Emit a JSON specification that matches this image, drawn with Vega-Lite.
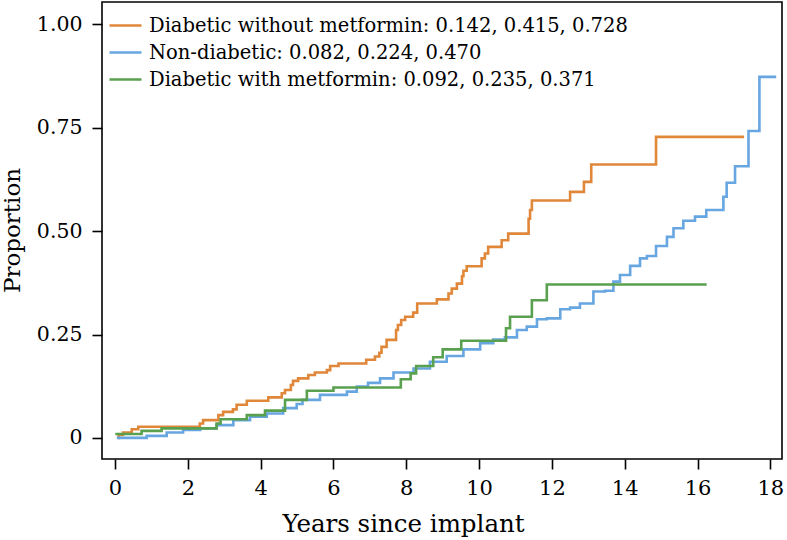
{
  "$schema": "https://vega.github.io/schema/vega-lite/v6.json",
  "width": 680,
  "height": 457,
  "autosize": "none",
  "padding": {"left": 102, "top": 2, "right": 5, "bottom": 81},
  "background": "white",
  "config": {
    "font": "DejaVu Serif",
    "view": {"stroke": "black", "strokeWidth": 1.6}
  },
  "datasets": {
    "curves": [
      {"group": "Diabetic without metformin: 0.142, 0.415, 0.728", "t": 0.08, "p": 0.0},
      {"group": "Diabetic without metformin: 0.142, 0.415, 0.728", "t": 0.1, "p": 0.007},
      {"group": "Diabetic without metformin: 0.142, 0.415, 0.728", "t": 0.22, "p": 0.013},
      {"group": "Diabetic without metformin: 0.142, 0.415, 0.728", "t": 0.46, "p": 0.021},
      {"group": "Diabetic without metformin: 0.142, 0.415, 0.728", "t": 0.64, "p": 0.027},
      {"group": "Diabetic without metformin: 0.142, 0.415, 0.728", "t": 2.33, "p": 0.035},
      {"group": "Diabetic without metformin: 0.142, 0.415, 0.728", "t": 2.42, "p": 0.043},
      {"group": "Diabetic without metformin: 0.142, 0.415, 0.728", "t": 2.84, "p": 0.055},
      {"group": "Diabetic without metformin: 0.142, 0.415, 0.728", "t": 2.97, "p": 0.063},
      {"group": "Diabetic without metformin: 0.142, 0.415, 0.728", "t": 3.24, "p": 0.069},
      {"group": "Diabetic without metformin: 0.142, 0.415, 0.728", "t": 3.34, "p": 0.08},
      {"group": "Diabetic without metformin: 0.142, 0.415, 0.728", "t": 3.62, "p": 0.09},
      {"group": "Diabetic without metformin: 0.142, 0.415, 0.728", "t": 4.21, "p": 0.098},
      {"group": "Diabetic without metformin: 0.142, 0.415, 0.728", "t": 4.58, "p": 0.108},
      {"group": "Diabetic without metformin: 0.142, 0.415, 0.728", "t": 4.67, "p": 0.116},
      {"group": "Diabetic without metformin: 0.142, 0.415, 0.728", "t": 4.83, "p": 0.128},
      {"group": "Diabetic without metformin: 0.142, 0.415, 0.728", "t": 4.89, "p": 0.138},
      {"group": "Diabetic without metformin: 0.142, 0.415, 0.728", "t": 5.03, "p": 0.144},
      {"group": "Diabetic without metformin: 0.142, 0.415, 0.728", "t": 5.31, "p": 0.152},
      {"group": "Diabetic without metformin: 0.142, 0.415, 0.728", "t": 5.49, "p": 0.158},
      {"group": "Diabetic without metformin: 0.142, 0.415, 0.728", "t": 5.82, "p": 0.164},
      {"group": "Diabetic without metformin: 0.142, 0.415, 0.728", "t": 5.91, "p": 0.174},
      {"group": "Diabetic without metformin: 0.142, 0.415, 0.728", "t": 6.14, "p": 0.18},
      {"group": "Diabetic without metformin: 0.142, 0.415, 0.728", "t": 6.9, "p": 0.189},
      {"group": "Diabetic without metformin: 0.142, 0.415, 0.728", "t": 7.14, "p": 0.197},
      {"group": "Diabetic without metformin: 0.142, 0.415, 0.728", "t": 7.26, "p": 0.206},
      {"group": "Diabetic without metformin: 0.142, 0.415, 0.728", "t": 7.32, "p": 0.22},
      {"group": "Diabetic without metformin: 0.142, 0.415, 0.728", "t": 7.46, "p": 0.237},
      {"group": "Diabetic without metformin: 0.142, 0.415, 0.728", "t": 7.72, "p": 0.261},
      {"group": "Diabetic without metformin: 0.142, 0.415, 0.728", "t": 7.77, "p": 0.273},
      {"group": "Diabetic without metformin: 0.142, 0.415, 0.728", "t": 7.86, "p": 0.285},
      {"group": "Diabetic without metformin: 0.142, 0.415, 0.728", "t": 7.97, "p": 0.293},
      {"group": "Diabetic without metformin: 0.142, 0.415, 0.728", "t": 8.19, "p": 0.303},
      {"group": "Diabetic without metformin: 0.142, 0.415, 0.728", "t": 8.3, "p": 0.325},
      {"group": "Diabetic without metformin: 0.142, 0.415, 0.728", "t": 8.84, "p": 0.335},
      {"group": "Diabetic without metformin: 0.142, 0.415, 0.728", "t": 9.16, "p": 0.349},
      {"group": "Diabetic without metformin: 0.142, 0.415, 0.728", "t": 9.25, "p": 0.361},
      {"group": "Diabetic without metformin: 0.142, 0.415, 0.728", "t": 9.39, "p": 0.373},
      {"group": "Diabetic without metformin: 0.142, 0.415, 0.728", "t": 9.53, "p": 0.391},
      {"group": "Diabetic without metformin: 0.142, 0.415, 0.728", "t": 9.57, "p": 0.404},
      {"group": "Diabetic without metformin: 0.142, 0.415, 0.728", "t": 9.66, "p": 0.415},
      {"group": "Diabetic without metformin: 0.142, 0.415, 0.728", "t": 10.07, "p": 0.434},
      {"group": "Diabetic without metformin: 0.142, 0.415, 0.728", "t": 10.16, "p": 0.446},
      {"group": "Diabetic without metformin: 0.142, 0.415, 0.728", "t": 10.25, "p": 0.462},
      {"group": "Diabetic without metformin: 0.142, 0.415, 0.728", "t": 10.62, "p": 0.478},
      {"group": "Diabetic without metformin: 0.142, 0.415, 0.728", "t": 10.8, "p": 0.494},
      {"group": "Diabetic without metformin: 0.142, 0.415, 0.728", "t": 11.36, "p": 0.53},
      {"group": "Diabetic without metformin: 0.142, 0.415, 0.728", "t": 11.4, "p": 0.551},
      {"group": "Diabetic without metformin: 0.142, 0.415, 0.728", "t": 11.45, "p": 0.574},
      {"group": "Diabetic without metformin: 0.142, 0.415, 0.728", "t": 12.5, "p": 0.595},
      {"group": "Diabetic without metformin: 0.142, 0.415, 0.728", "t": 12.88, "p": 0.619},
      {"group": "Diabetic without metformin: 0.142, 0.415, 0.728", "t": 13.08, "p": 0.661},
      {"group": "Diabetic without metformin: 0.142, 0.415, 0.728", "t": 14.86, "p": 0.728},
      {"group": "Diabetic without metformin: 0.142, 0.415, 0.728", "t": 17.28, "p": 0.728},

      {"group": "Non-diabetic: 0.082, 0.224, 0.470", "t": 0.05, "p": 0.0},
      {"group": "Non-diabetic: 0.082, 0.224, 0.470", "t": 0.87, "p": 0.005},
      {"group": "Non-diabetic: 0.082, 0.224, 0.470", "t": 1.42, "p": 0.013},
      {"group": "Non-diabetic: 0.082, 0.224, 0.470", "t": 1.87, "p": 0.019},
      {"group": "Non-diabetic: 0.082, 0.224, 0.470", "t": 2.34, "p": 0.023},
      {"group": "Non-diabetic: 0.082, 0.224, 0.470", "t": 2.79, "p": 0.031},
      {"group": "Non-diabetic: 0.082, 0.224, 0.470", "t": 3.25, "p": 0.043},
      {"group": "Non-diabetic: 0.082, 0.224, 0.470", "t": 3.71, "p": 0.051},
      {"group": "Non-diabetic: 0.082, 0.224, 0.470", "t": 4.17, "p": 0.059},
      {"group": "Non-diabetic: 0.082, 0.224, 0.470", "t": 4.62, "p": 0.072},
      {"group": "Non-diabetic: 0.082, 0.224, 0.470", "t": 4.99, "p": 0.082},
      {"group": "Non-diabetic: 0.082, 0.224, 0.470", "t": 5.15, "p": 0.092},
      {"group": "Non-diabetic: 0.082, 0.224, 0.470", "t": 5.63, "p": 0.104},
      {"group": "Non-diabetic: 0.082, 0.224, 0.470", "t": 6.37, "p": 0.112},
      {"group": "Non-diabetic: 0.082, 0.224, 0.470", "t": 6.64, "p": 0.124},
      {"group": "Non-diabetic: 0.082, 0.224, 0.470", "t": 6.95, "p": 0.133},
      {"group": "Non-diabetic: 0.082, 0.224, 0.470", "t": 7.28, "p": 0.144},
      {"group": "Non-diabetic: 0.082, 0.224, 0.470", "t": 7.65, "p": 0.158},
      {"group": "Non-diabetic: 0.082, 0.224, 0.470", "t": 8.2, "p": 0.168},
      {"group": "Non-diabetic: 0.082, 0.224, 0.470", "t": 8.65, "p": 0.184},
      {"group": "Non-diabetic: 0.082, 0.224, 0.470", "t": 9.11, "p": 0.198},
      {"group": "Non-diabetic: 0.082, 0.224, 0.470", "t": 9.57, "p": 0.214},
      {"group": "Non-diabetic: 0.082, 0.224, 0.470", "t": 10.03, "p": 0.229},
      {"group": "Non-diabetic: 0.082, 0.224, 0.470", "t": 10.39, "p": 0.238},
      {"group": "Non-diabetic: 0.082, 0.224, 0.470", "t": 10.71, "p": 0.243},
      {"group": "Non-diabetic: 0.082, 0.224, 0.470", "t": 11.04, "p": 0.261},
      {"group": "Non-diabetic: 0.082, 0.224, 0.470", "t": 11.31, "p": 0.269},
      {"group": "Non-diabetic: 0.082, 0.224, 0.470", "t": 11.59, "p": 0.287},
      {"group": "Non-diabetic: 0.082, 0.224, 0.470", "t": 11.86, "p": 0.289},
      {"group": "Non-diabetic: 0.082, 0.224, 0.470", "t": 12.23, "p": 0.311},
      {"group": "Non-diabetic: 0.082, 0.224, 0.470", "t": 12.5, "p": 0.315},
      {"group": "Non-diabetic: 0.082, 0.224, 0.470", "t": 12.77, "p": 0.325},
      {"group": "Non-diabetic: 0.082, 0.224, 0.470", "t": 13.14, "p": 0.354},
      {"group": "Non-diabetic: 0.082, 0.224, 0.470", "t": 13.46, "p": 0.356},
      {"group": "Non-diabetic: 0.082, 0.224, 0.470", "t": 13.69, "p": 0.378},
      {"group": "Non-diabetic: 0.082, 0.224, 0.470", "t": 13.87, "p": 0.394},
      {"group": "Non-diabetic: 0.082, 0.224, 0.470", "t": 14.15, "p": 0.416},
      {"group": "Non-diabetic: 0.082, 0.224, 0.470", "t": 14.42, "p": 0.434},
      {"group": "Non-diabetic: 0.082, 0.224, 0.470", "t": 14.61, "p": 0.44},
      {"group": "Non-diabetic: 0.082, 0.224, 0.470", "t": 14.86, "p": 0.464},
      {"group": "Non-diabetic: 0.082, 0.224, 0.470", "t": 15.16, "p": 0.486},
      {"group": "Non-diabetic: 0.082, 0.224, 0.470", "t": 15.34, "p": 0.507},
      {"group": "Non-diabetic: 0.082, 0.224, 0.470", "t": 15.61, "p": 0.525},
      {"group": "Non-diabetic: 0.082, 0.224, 0.470", "t": 15.93, "p": 0.535},
      {"group": "Non-diabetic: 0.082, 0.224, 0.470", "t": 16.24, "p": 0.551},
      {"group": "Non-diabetic: 0.082, 0.224, 0.470", "t": 16.71, "p": 0.583},
      {"group": "Non-diabetic: 0.082, 0.224, 0.470", "t": 16.8, "p": 0.617},
      {"group": "Non-diabetic: 0.082, 0.224, 0.470", "t": 17.03, "p": 0.657},
      {"group": "Non-diabetic: 0.082, 0.224, 0.470", "t": 17.4, "p": 0.742},
      {"group": "Non-diabetic: 0.082, 0.224, 0.470", "t": 17.7, "p": 0.873},
      {"group": "Non-diabetic: 0.082, 0.224, 0.470", "t": 18.16, "p": 0.873},

      {"group": "Diabetic with metformin: 0.092, 0.235, 0.371", "t": 0.01, "p": 0.0095},
      {"group": "Diabetic with metformin: 0.092, 0.235, 0.371", "t": 0.73, "p": 0.017},
      {"group": "Diabetic with metformin: 0.092, 0.235, 0.371", "t": 1.28, "p": 0.023},
      {"group": "Diabetic with metformin: 0.092, 0.235, 0.371", "t": 2.79, "p": 0.035},
      {"group": "Diabetic with metformin: 0.092, 0.235, 0.371", "t": 2.9, "p": 0.045},
      {"group": "Diabetic with metformin: 0.092, 0.235, 0.371", "t": 3.62, "p": 0.055},
      {"group": "Diabetic with metformin: 0.092, 0.235, 0.371", "t": 4.12, "p": 0.066},
      {"group": "Diabetic with metformin: 0.092, 0.235, 0.371", "t": 4.67, "p": 0.092},
      {"group": "Diabetic with metformin: 0.092, 0.235, 0.371", "t": 5.27, "p": 0.114},
      {"group": "Diabetic with metformin: 0.092, 0.235, 0.371", "t": 6.0, "p": 0.122},
      {"group": "Diabetic with metformin: 0.092, 0.235, 0.371", "t": 7.85, "p": 0.142},
      {"group": "Diabetic with metformin: 0.092, 0.235, 0.371", "t": 8.12, "p": 0.156},
      {"group": "Diabetic with metformin: 0.092, 0.235, 0.371", "t": 8.27, "p": 0.174},
      {"group": "Diabetic with metformin: 0.092, 0.235, 0.371", "t": 8.74, "p": 0.195},
      {"group": "Diabetic with metformin: 0.092, 0.235, 0.371", "t": 9.0, "p": 0.214},
      {"group": "Diabetic with metformin: 0.092, 0.235, 0.371", "t": 9.51, "p": 0.235},
      {"group": "Diabetic with metformin: 0.092, 0.235, 0.371", "t": 10.74, "p": 0.265},
      {"group": "Diabetic with metformin: 0.092, 0.235, 0.371", "t": 10.85, "p": 0.293},
      {"group": "Diabetic with metformin: 0.092, 0.235, 0.371", "t": 11.45, "p": 0.333},
      {"group": "Diabetic with metformin: 0.092, 0.235, 0.371", "t": 11.86, "p": 0.371},
      {"group": "Diabetic with metformin: 0.092, 0.235, 0.371", "t": 16.25, "p": 0.371}
    ]
  },
  "data": {"name": "curves"},
  "mark": {"type": "line", "interpolate": "step-after", "strokeWidth": 2.6, "clip": true},
  "encoding": {
    "x": {
      "field": "t",
      "type": "quantitative",
      "scale": {"domain": [-0.357, 18.32], "nice": false, "zero": false},
      "axis": {
        "title": "Years since implant",
        "values": [0, 2, 4, 6, 8, 10, 12, 14, 16, 18],
        "grid": false,
        "domain": false,
        "tickColor": "black",
        "tickWidth": 1.6,
        "tickSize": 10,
        "labelFontSize": 21,
        "labelColor": "black",
        "labelPadding": 8,
        "labelFlush": false,
        "titleFontSize": 24.5,
        "titleFontWeight": "normal",
        "titleColor": "black",
        "titleX": 301,
        "titleY": 72,
        "titleAlign": "center",
        "titleBaseline": "alphabetic"
      }
    },
    "y": {
      "field": "p",
      "type": "quantitative",
      "scale": {"domain": [-0.051, 1.054], "nice": false, "zero": false},
      "axis": {
        "title": "Proportion",
        "values": [0, 0.25, 0.5, 0.75, 1],
        "labelExpr": "datum.value == 0 ? '0' : format(datum.value, '.2f')",
        "grid": false,
        "domain": false,
        "tickColor": "black",
        "tickWidth": 1.6,
        "tickSize": 10,
        "labelFontSize": 20.5,
        "labelColor": "black",
        "labelPadding": 10,
        "titleFontSize": 23,
        "titleFontWeight": "normal",
        "titleColor": "black",
        "titleX": -83,
        "titleY": 228,
        "titleAngle": -90,
        "titleAlign": "center",
        "titleBaseline": "alphabetic"
      }
    },
    "color": {
      "field": "group",
      "type": "nominal",
      "scale": {
        "domain": [
          "Diabetic without metformin: 0.142, 0.415, 0.728",
          "Non-diabetic: 0.082, 0.224, 0.470",
          "Diabetic with metformin: 0.092, 0.235, 0.371"
        ],
        "range": ["#E0873A", "#67A6E0", "#59A04F"]
      },
      "legend": {
        "title": null,
        "orient": "none",
        "legendX": 6,
        "legendY": 6,
        "symbolType": "stroke",
        "symbolSize": 1024,
        "symbolStrokeWidth": 2.5,
        "labelFontSize": 19.5,
        "labelColor": "black",
        "labelOffset": 6,
        "labelLimit": 700,
        "rowPadding": -5,
        "padding": 0
      }
    }
  }
}
